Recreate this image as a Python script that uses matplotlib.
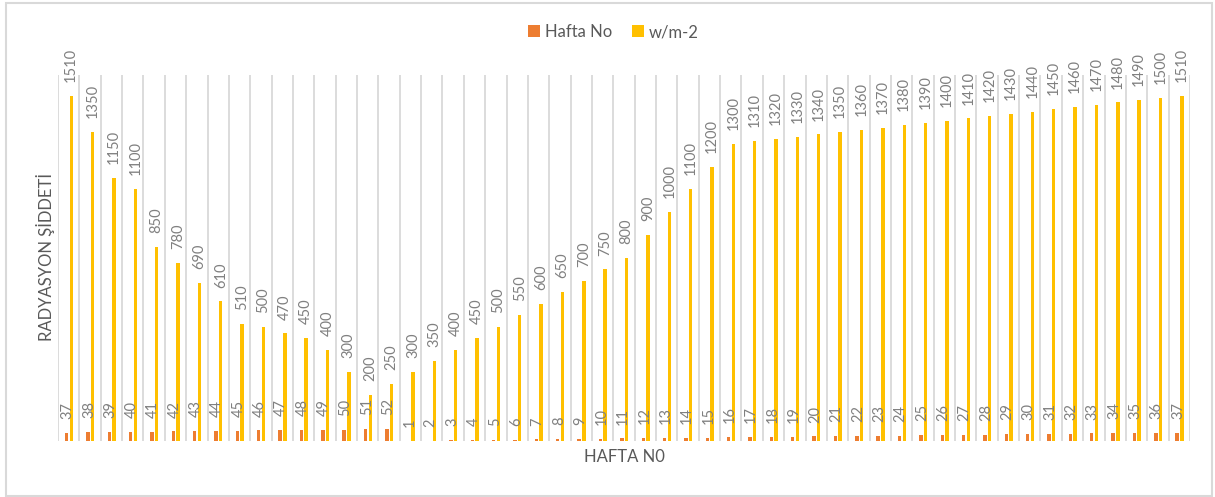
import matplotlib
matplotlib.use("Agg")
import matplotlib.pyplot as plt
from matplotlib.patches import Rectangle
import numpy as np

plt.rcParams['font.family'] = ['Lato', 'DejaVu Sans']

# Week numbers (from week 37 of one year to week 37 of the next)
weeks = [37, 38, 39, 40, 41, 42, 43, 44, 45, 46, 47, 48, 49, 50, 51, 52,
         1, 2, 3, 4, 5, 6, 7, 8, 9, 10, 11, 12, 13, 14, 15, 16, 17, 18, 19,
         20, 21, 22, 23, 24, 25, 26, 27, 28, 29, 30, 31, 32, 33, 34, 35, 36, 37]
# Radiation intensity, W/m2
radiation = [1510, 1350, 1150, 1100, 850, 780, 690, 610, 510, 500, 470, 450,
             400, 300, 200, 250, 300, 350, 400, 450, 500, 550, 600, 650, 700,
             750, 800, 900, 1000, 1100, 1200, 1300, 1310, 1320, 1330, 1340,
             1350, 1360, 1370, 1380, 1390, 1400, 1410, 1420, 1430, 1440, 1450,
             1460, 1470, 1480, 1490, 1500, 1510]
series_names = ["Hafta No", "w/m-2"]

ORANGE = "#ED7D31"
GOLD = "#FFC000"
LABEL_GRAY = "#808080"
AXIS_GRAY = "#595959"
GRID_GRAY = "#D9D9D9"

W, H = 1215, 497
fig = plt.figure(figsize=(W / 100, H / 100), dpi=100)
ax = fig.add_axes([58 / W, 1 - 441 / H, (1190 - 58) / W, (441 - 75) / H])

x = np.arange(len(weeks))
bw = 0.16
b1 = ax.bar(x - 0.1, weeks, width=bw, color=ORANGE, label=series_names[0])
b2 = ax.bar(x + 0.12, radiation, width=bw, color=GOLD, label=series_names[1])

for rect, v in zip(b1, weeks):
    ax.annotate(str(v), (rect.get_x() + rect.get_width() / 2 + 0.05, rect.get_height()),
                xytext=(0, 10), textcoords="offset points", rotation=90,
                ha="center", va="bottom", fontsize=10.5, color=LABEL_GRAY)
for rect, v in zip(b2, radiation):
    ax.annotate(str(v), (rect.get_x() + rect.get_width() / 2, rect.get_height()),
                xytext=(0, 10), textcoords="offset points", rotation=90,
                ha="center", va="bottom", fontsize=10.5, color=LABEL_GRAY)

ax.set_xlim(-0.5, len(weeks) - 0.5)
ax.set_ylim(0, 1600)
ax.set_xticks([])
ax.set_yticks([])
ax.set_xticks(np.arange(-0.5, len(weeks)), minor=True)
ax.tick_params(which="both", length=0)
ax.grid(which="minor", axis="x", color=GRID_GRAY, linewidth=1.3)
ax.set_axisbelow(True)
for s in ax.spines.values():
    s.set_visible(False)

fig.text(46 / W, 0.483, "RADYASYON ŞİDDETİ", rotation=90, ha="center", va="center",
         fontsize=12, color=AXIS_GRAY)
fig.text(624 / W, 1 - 457 / H, "HAFTA N0", ha="center", va="center",
         fontsize=12, color=AXIS_GRAY)

fig.legend(handles=[b1, b2], labels=series_names, loc="center",
           bbox_to_anchor=(0.505, 1 - 32 / H), ncol=2, frameon=False,
           handlelength=0.7, handleheight=0.7, handletextpad=0.3,
           columnspacing=1.2, fontsize=12, labelcolor=AXIS_GRAY)

fig.patches.append(Rectangle((6 / W, 1 / H), (1212 - 6) / W, (494 - 1) / H,
                             transform=fig.transFigure, fill=False,
                             edgecolor=GRID_GRAY, linewidth=1.5))

fig.savefig("out.png", dpi=100, facecolor="white")
